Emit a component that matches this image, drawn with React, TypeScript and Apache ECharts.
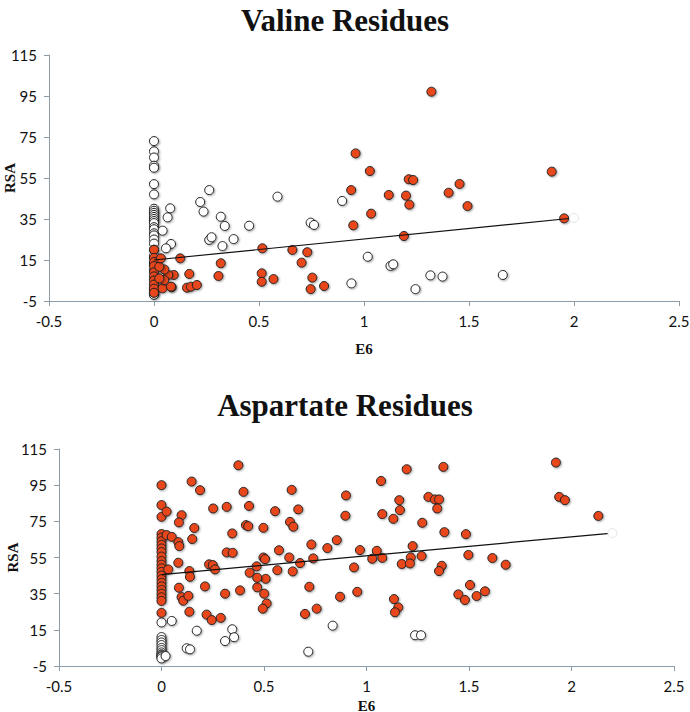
import React, { useEffect, useRef } from "react";
import * as echarts from "echarts";

type P = [number, number];

const X_TICKS = [-0.5, 0, 0.5, 1, 1.5, 2, 2.5];
const Y_TICKS = [-5, 15, 35, 55, 75, 95, 115];

const TITLE_TOP = "Valine Residues";
const TITLE_BOTTOM = "Aspartate Residues";
const X_NAME = "E6";
const Y_NAME = "RSA";

// Valine: open (white) circles
const VAL_OPEN_ZERO_Y = [73, 68, 65, 61, 60, 52, 47, 40, 39, 38, 37, 36, 35, 34, 33, 31, 30, 28, 27, 25, 23, 20, 17, 13, 10, 6, 3, 1, 0, -1, -2];
const VAL_OPEN: P[] = [
  [0.077, 40.2], [0.065, 35.8], [0.041, 29.3], [0.081, 22.8], [0.057, 20.7], [0.263, 49.1], [0.22, 43.3],
  [0.236, 38.6], [0.318, 36.1], [0.337, 31.6], [0.263, 24.8], [0.274, 26.1], [0.326, 21.8], [0.379, 25.2],
  [0.453, 31.7], [0.588, 45.9], [0.746, 33.2], [0.762, 32.1], [0.896, 43.8], [0.94, 3.6], [1.018, 16.6],
  [1.126, 12.1], [1.139, 12.9], [1.245, 0.8], [1.316, 7.5], [1.374, 6.9], [1.661, 7.7],
];
// Valine: filled (orange) circles
const VAL_FILLED_ZERO_Y = [20, 16, 14, 12, 9, 7, 5, 3, 1, -1];
const VAL_FILLED: P[] = [
  [1.321, 97.1], [0.96, 67], [1.028, 58.4], [1.213, 54.4], [1.234, 54], [1.894, 58.1], [1.455, 52.1],
  [0.939, 49.1], [1.403, 47.8], [1.118, 46.7], [1.2, 46.4], [1.216, 42], [1.493, 41.3], [1.034, 37.6],
  [0.949, 31.9], [1.19, 26.7], [1.953, 35.3], [0.516, 20.7], [0.659, 19.9], [0.73, 18.8], [0.703, 13.7],
  [0.125, 15.8], [0.318, 13.4], [0.168, 8.2], [0.307, 7.2], [0.513, 8.5], [0.513, 4.4], [0.569, 5.7],
  [0.754, 6.4], [0.746, 0.8], [0.81, 2.3], [0.157, 1.5], [0.176, 2], [0.204, 2.8], [0.084, 1.7], [0.094, 7.7],
  [0.068, 7.7], [0.049, 10.4], [0.025, 11.7], [0.033, 15.8], [0.041, 1.2], [0.049, 5.2], [0.081, 2], [0.025, 6],
];
const VAL_TREND: P[] = [[0, 15], [2, 35.5]];

// Aspartate: open (white) circles
const ASP_OPEN_ZERO_Y = [19.1, 11, 9.4, 8, 6.6, 5, 3.8, 2.5, 1.5, 1.1, 0.5, 0.1, -0.8];
const ASP_OPEN: P[] = [
  [0.05, 19.9], [0.172, 14.5], [0.345, 15.3], [0.354, 10.9], [0.31, 8.8], [0.123, 4.8], [0.139, 4.2],
  [0.716, 2.9], [0.835, 17.3], [1.237, 12], [1.266, 12], [0.02, 0.5],
];
// Aspartate: filled (orange) circles
const ASP_FILLED_ZERO_Y = [95, 84, 77.5, 68, 66, 64, 62, 60, 58, 55.5, 53, 51, 49, 47, 45, 43, 41, 39, 37, 35, 33, 31, 24.4];
const ASP_FILLED: P[] = [
  [0.025, 80.4], [0.147, 97], [0.188, 92.2], [0.098, 78.4], [0.085, 74.4], [0.16, 71.3], [0.15, 65.2],
  [0.252, 82.1], [0.318, 83], [0.427, 83.5], [0.4, 91.3], [0.375, 106], [0.412, 72.9], [0.423, 72.3],
  [0.345, 68.3], [0.025, 67.4], [0.05, 66.4], [0.082, 63.5], [0.087, 61.3], [0.318, 57.8], [0.347, 57.6],
  [0.082, 52.1], [0.232, 51.2], [0.25, 50.8], [0.261, 48.4], [0.033, 48.4], [0.136, 47.5], [0.139, 44.3],
  [0.464, 50.1], [0.43, 46.6], [0.085, 38.3], [0.212, 39], [0.31, 35], [0.383, 36.8], [0.098, 33.1],
  [0.106, 31.1], [0.131, 33.8], [0.136, 25], [0.22, 23.4], [0.245, 20.4], [0.289, 21.6],
  [0.635, 92.4], [0.554, 80.6], [0.667, 81.6], [0.627, 74.7], [0.643, 72], [0.497, 71.4], [0.573, 59],
  [0.731, 62.2], [0.74, 54.5], [0.809, 60.2], [0.855, 64.6], [0.9, 89.3], [0.897, 78.1], [0.676, 51.9],
  [0.623, 55], [0.497, 55], [0.505, 54.1], [0.565, 48], [0.64, 47.3], [0.467, 38.5], [0.508, 43.2],
  [0.467, 43.8], [0.501, 35], [0.513, 29.6], [0.494, 26.7], [0.721, 38.8], [0.871, 33.3], [0.757, 26.7],
  [0.7, 23.8],
  [1.924, 107.5], [1.94, 88.5], [1.968, 86.7], [2.131, 78], [1.196, 103.8], [1.375, 105.1], [1.071, 97.3],
  [1.16, 86.7], [1.163, 81.2], [1.302, 88.5], [1.334, 87.1], [1.354, 87.1], [1.345, 82.1], [1.077, 79],
  [1.131, 76.4], [1.272, 74.2], [1.38, 69], [1.485, 67.9], [1.225, 61.3], [0.968, 59.1], [1.05, 58.7],
  [1.028, 54.3], [1.077, 54.8], [1.216, 55], [1.269, 55.8], [1.172, 51.4], [1.212, 51.7], [1.367, 50.4],
  [1.354, 47.5], [1.497, 56.4], [1.614, 54.7], [1.679, 51], [0.939, 49.5], [0.955, 36], [1.505, 39.8],
  [1.448, 34.6], [1.48, 31.5], [1.537, 33.7], [1.578, 36.3], [1.134, 32], [1.155, 27.4], [1.139, 24.7],
];
const ASP_TREND: P[] = [[0, 45.5], [2.2, 68.5]];

const ORANGE = "#e8461e";
const AXIS_COLOR = "#8c9ca8";
const SERIF = "'Liberation Serif', 'DejaVu Serif', serif";
const SANS = "Lato, 'Liberation Sans', sans-serif";

const zeroCol = (ys: number[]): P[] => ys.map((y) => [0, y] as P);

function xAxis(gridIndex: number, nameGap: number) {
  return {
    type: "value",
    gridIndex,
    min: -0.5,
    max: 2.5,
    interval: 0.5,
    splitLine: { show: false },
    axisLine: { show: true, onZero: false, lineStyle: { color: AXIS_COLOR, width: 1 } },
    axisTick: { show: true, length: 5, lineStyle: { color: AXIS_COLOR }, customValues: X_TICKS },
    axisLabel: { color: "#111", fontFamily: SANS, fontSize: 15, margin: 12, customValues: X_TICKS },
    name: X_NAME,
    nameLocation: "middle",
    nameGap,
    nameMoveOverlap: false,
    nameTextStyle: { fontFamily: SERIF, fontWeight: "bold", fontSize: 15, color: "#111" },
  };
}

function yAxis(gridIndex: number, nameGap: number) {
  return {
    type: "value",
    gridIndex,
    min: -5,
    max: 115,
    splitLine: { show: false },
    axisLine: { show: true, onZero: false, lineStyle: { color: AXIS_COLOR, width: 1 } },
    axisTick: { show: true, length: 5, lineStyle: { color: AXIS_COLOR }, customValues: Y_TICKS },
    axisLabel: { color: "#111", fontFamily: SANS, fontSize: 15, margin: 12, customValues: Y_TICKS },
    name: Y_NAME,
    nameLocation: "middle",
    nameGap,
    nameMoveOverlap: false,
    nameTextStyle: { fontFamily: SERIF, fontWeight: "bold", fontSize: 15, color: "#111" },
  };
}

const shadow = { shadowBlur: 2, shadowColor: "rgba(0,0,0,0.35)", shadowOffsetX: 1, shadowOffsetY: 1 };

function scatter(idx: number, data: P[], filled: boolean) {
  return {
    type: "scatter",
    xAxisIndex: idx,
    yAxisIndex: idx,
    data,
    symbol: "circle",
    symbolSize: 9,
    itemStyle: {
      color: filled ? ORANGE : "#ffffff",
      borderColor: "#222",
      borderWidth: 1,
      opacity: 1,
      ...shadow,
    },
    z: filled ? 3 : 2,
  };
}

function trend(idx: number, data: P[]) {
  return {
    type: "line",
    xAxisIndex: idx,
    yAxisIndex: idx,
    data: data.map((p, i) =>
      i === data.length - 1
        ? { value: p, symbol: "circle", symbolSize: 9, itemStyle: { color: "#fff", borderColor: "#e6e6e6", borderWidth: 1 } }
        : { value: p, symbol: "none" }
    ),
    showSymbol: true,
    lineStyle: { color: "#111", width: 1.2 },
    z: 4,
  };
}

export default function App() {
  const ref = useRef<HTMLDivElement>(null);
  useEffect(() => {
    if (!ref.current) return;
    const chart = echarts.init(ref.current, undefined, { renderer: "svg" });
    chart.setOption({
      animation: false,
      backgroundColor: "#ffffff",
      title: [
        {
          text: TITLE_TOP,
          left: "center",
          top: 0,
          textStyle: { fontFamily: SERIF, fontWeight: "bold", fontSize: 31, color: "#111" },
        },
        {
          text: TITLE_BOTTOM,
          left: "center",
          top: 385,
          textStyle: { fontFamily: SERIF, fontWeight: "bold", fontSize: 31, color: "#111" },
        },
      ],
      grid: [
        { left: 49, top: 55, width: 630, height: 246, containLabel: false, outerBoundsMode: "none" },
        { left: 59, top: 449, width: 615, height: 217, containLabel: false, outerBoundsMode: "none" },
      ],
      xAxis: [xAxis(0, 40), xAxis(1, 32)],
      yAxis: [yAxis(0, 32), yAxis(1, 39)],
      series: [
        scatter(0, [...zeroCol(VAL_OPEN_ZERO_Y), ...VAL_OPEN], false),
        scatter(0, [...zeroCol(VAL_FILLED_ZERO_Y), ...VAL_FILLED], true),
        trend(0, VAL_TREND),
        scatter(1, [...zeroCol(ASP_OPEN_ZERO_Y), ...ASP_OPEN], false),
        scatter(1, [...zeroCol(ASP_FILLED_ZERO_Y), ...ASP_FILLED], true),
        trend(1, ASP_TREND),
      ],
    });
    return () => chart.dispose();
  }, []);
  return (
    <div
      ref={ref}
      style={{ position: "fixed", left: 0, top: 0, width: 690, height: 712, background: "#fff" }}
    />
  );
}
